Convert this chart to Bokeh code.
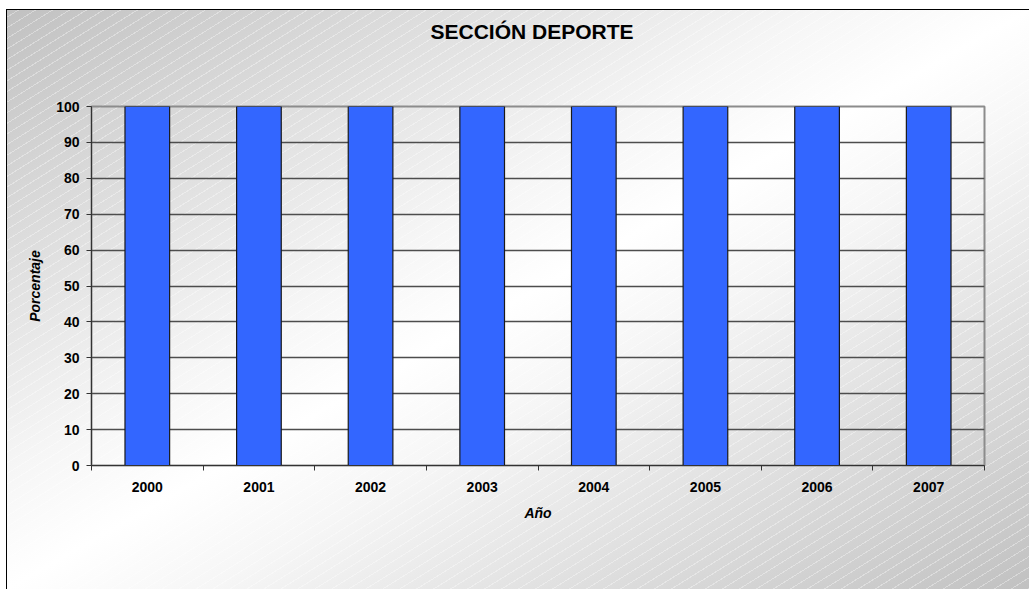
from bokeh.plotting import figure
from bokeh.models import FixedTicker, Range1d, ColumnDataSource, Title
from bokeh.embed import file_html
from bokeh.resources import INLINE

title_text = "SECCIÓN DEPORTE"
years = ["2000", "2001", "2002", "2003", "2004", "2005", "2006", "2007"]
values = [100, 100, 100, 100, 100, 100, 100, 100]
y_ticks = [0, 10, 20, 30, 40, 50, 60, 70, 80, 90, 100]

xs = [i + 0.5 for i in range(len(years))]
src = ColumnDataSource(dict(x=xs, top=values))

W, H = 1029, 589
ML, MR, MT, MB = 91, 45, 106, 124

p = figure(width=W, height=H, output_backend="svg", toolbar_location=None,
           x_range=Range1d(0, len(years)), y_range=Range1d(0, 100),
           title=None,
           min_border_left=ML, min_border_right=MR, min_border_top=MT, min_border_bottom=MB)

hatch = ("repeating-linear-gradient(-32deg, rgba(255,255,255,0.35) 0px, rgba(255,255,255,0.35) 1px, "
         "rgba(255,255,255,0) 1px, rgba(255,255,255,0) 9px) 7px 10px / calc(100% - 7px) calc(100% - 10px) no-repeat")
grad = ("linear-gradient(to bottom right, #c1c1c1 0%, #f6f6f6 40%, #ffffff 50%, #f6f6f6 60%, #c1c1c1 100%) "
        "7px 10px / calc(100% - 7px) calc(100% - 10px) no-repeat")
vline = "linear-gradient(#000, #000) 6px 9px / 1px calc(100% - 9px) no-repeat"
hline = "linear-gradient(#000, #000) 6px 9px / calc(100% - 6px) 1px no-repeat"
p.styles = {"background": ", ".join([vline, hline, hatch, grad]) + ", #ffffff"}
p.border_fill_color = None
p.background_fill_color = None
p.outline_line_color = "#8c8c8c"
p.outline_line_width = 2

# spacer panel between frame and title (nearest the frame)
p.add_layout(Title(text=" ", text_font_size="10px", standoff=51), "above")
# main title
p.add_layout(Title(text=title_text, text_font="Liberation Sans", text_font_size="21px",
                   text_font_style="bold", align="left", offset=339, standoff=0,
                   text_color="#000000"), "above")

p.vbar(x="x", top="top", width=0.4, source=src, fill_color="#3366FF",
       line_color="#1a1a1a", line_width=1.2)

# y axis
p.yaxis.ticker = FixedTicker(ticks=y_ticks)
p.yaxis.axis_label = "Porcentaje"
p.yaxis.axis_label_text_font = "Liberation Sans"
p.yaxis.axis_label_text_font_style = "bold italic"
p.yaxis.axis_label_text_font_size = "14px"
p.yaxis.axis_label_text_color = "#000000"
p.yaxis.axis_label_standoff = 10
p.yaxis.major_label_text_font = "Liberation Sans"
p.yaxis.major_label_text_font_style = "bold"
p.yaxis.major_label_text_font_size = "14px"
p.yaxis.major_label_text_color = "#000000"
p.yaxis.major_label_standoff = 7
p.yaxis.major_tick_out = 5
p.yaxis.major_tick_in = 0
p.yaxis.minor_tick_line_color = None
p.yaxis.axis_line_color = "#333333"
p.yaxis.major_tick_line_color = "#333333"

# x axis
p.xaxis.ticker = FixedTicker(ticks=xs, minor_ticks=list(range(len(years) + 1)))
p.xaxis.major_label_overrides = {x: y for x, y in zip(xs, years)}
p.xaxis.major_tick_line_color = None
p.xaxis.major_tick_out = 0
p.xaxis.major_tick_in = 0
p.xaxis.minor_tick_line_color = "#333333"
p.xaxis.minor_tick_out = 5
p.xaxis.minor_tick_in = 0
p.xaxis.major_label_standoff = 11
p.xaxis.major_label_text_font = "Liberation Sans"
p.xaxis.major_label_text_font_style = "bold"
p.xaxis.major_label_text_font_size = "14px"
p.xaxis.major_label_text_color = "#000000"
p.xaxis.axis_label = "Año"
p.xaxis.axis_label_text_font = "Liberation Sans"
p.xaxis.axis_label_text_font_style = "bold italic"
p.xaxis.axis_label_text_font_size = "14px"
p.xaxis.axis_label_text_color = "#000000"
p.xaxis.axis_label_standoff = 10
p.xaxis.axis_line_color = "#333333"

p.xgrid.grid_line_color = None
p.ygrid.grid_line_color = "#4d4d4d"
p.ygrid.grid_line_width = 1.5

open("out.html", "w").write(file_html(p, INLINE))
